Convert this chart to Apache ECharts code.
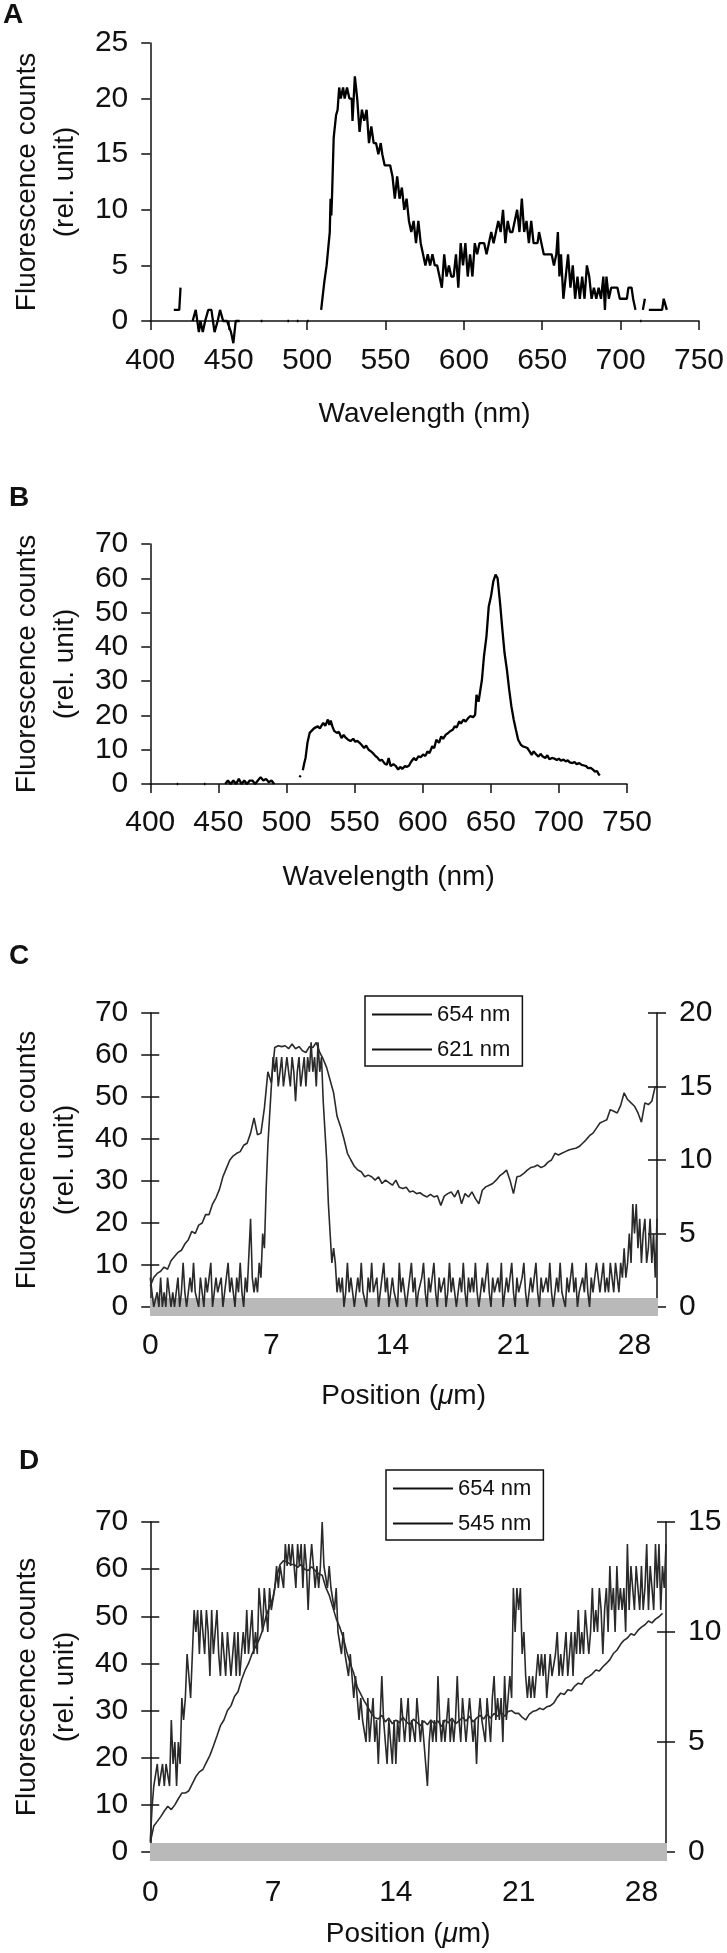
<!DOCTYPE html>
<html>
<head>
<meta charset="utf-8">
<title>Fluorescence spectra and position profiles</title>
<script src="https://cdn.jsdelivr.net/npm/echarts@6/dist/echarts.min.js"></script>
<style>
  html, body { margin: 0; padding: 0; background: #fff; }
  #main { width: 727px; height: 1953px; }
</style>
</head>
<body>
<div id="main"></div>
<script>
// ---- panel A: spectrum (null = gap in the trace)
var wlA = [
  415, 418.5, 419.3, 422, 427, 429, 431, 432, 433.5, 435,
  437, 439, 441, 443, 444.5, 446.5, 449, 451.5, 453, 454.5,
  457, 460, 470.5, 471.5, 475, 487.5, 488.5, 490, 493.5, 494.5,
  497, 500, 501, 505, 509, 510, 511, 512.5, 513.5, 514.5,
  515, 515.5, 516, 517, 518.5, 519.5, 520.5, 521.5, 523, 524,
  525.5, 527, 528.5, 529, 530.5, 532, 533.5, 535, 536.5, 538,
  539.5, 541, 542.5, 544, 545.5, 547, 548, 549.5, 553, 554.5,
  556, 557.5, 559, 560.5, 562, 563.5, 565, 566.5, 568, 569.5,
  571, 572.5, 574, 575.5, 577, 578.5, 580, 581.5, 583, 584.5,
  586, 587.5, 589, 590.5, 592, 593.5, 595, 596.5, 598, 599.5,
  601, 602.5, 604, 605.5, 607, 608.5, 610, 613, 614.5, 616,
  617.5, 619, 620.5, 622, 623.5, 625, 626.5, 628, 629.5, 631,
  632.5, 634, 635.5, 637, 638.5, 640, 641.5, 643, 644.5, 647,
  648, 649.5, 651, 656, 657.5, 659, 660, 661, 662, 663.5,
  665, 666.5, 668, 669.5, 671, 672.5, 674, 675.5, 677, 678.5,
  680, 681.5, 683, 684.5, 686, 687.5, 689, 690, 691, 692.5,
  694, 698, 699.5, 704, 705, 707, 708, 709.5, 711, 712.5,
  713.3, 713.8, 714.2, 715.5, 716.5, 718, 726.5, 727.5, 729.5
];
var cntA = [
  1, 1, 3, null, 0, 1, -1, 0, -1, 0,
  1, 1, -1, 0, 1, 0, 0, -1, -2, 0,
  0, null, 0, 0, null, 0, 0, null, 0, 0,
  null, 0, 0, null, 1, 1, 3.5, 5, 6.5, 8,
  11, 9.5, 11.5, 16.5, 18.5, 19, 21, 20, 21, 20,
  21, 20, 20, 18, 22, 20, 17, 19, 18, 19,
  16, 17.5, 16, 16, 15, 16, 15, 14, 14, 13,
  11, 13, 11, 12, 10, 11, 9, 8, 9, 7,
  9, 7, 6, 5, 6, 5, 6, 5, 5, 4,
  3, 6, 4, 5, 4, 4, 6, 3, 7, 5,
  7, 4, 6, 4, 7, 6, 7, 7, 6, 7,
  8, 7, 8, 9, 8, 10, 7, 9, 8, 8,
  9, 10, 8, 11, 8, 9, 7, 9, 7, 7,
  8, 7, 6, 6, 5, 6, 8, 4, 6, 2,
  4, 6, 3, 5, 2, 4, 2, 4, 2, 5,
  4, 2, 3, 2, 3, 2, 4, 1, 4, 2,
  3, 3, 2, 2, 3, 3, 2, 1, null, 0,
  0, null, 1, 2, null, 1, 1, 2, 1
];

// ---- panel B: spectrum
var wlB = [
  419.5, 420.5, 422, 439.5, 440.5, 442, 455, 457, 459, 461,
  463, 465, 467, 469, 471, 473, 475, 477, 479, 481,
  483, 485, 487, 489, 491, 493, 509.5, 510.5, 511.2, 512,
  513, 514, 515.4, 517, 520.4, 523, 524.5, 527, 528.5, 530.4,
  531.5, 532.5, 533.7, 535, 537, 538.5, 540.4, 542, 543.5, 545,
  547, 549, 550.5, 552, 553.7, 555.5, 557, 558.5, 560.3, 562,
  563.5, 565, 567, 568.5, 570, 572, 573.7, 575, 576.5, 578.5,
  580.3, 582, 583.5, 585, 587, 588.5, 590, 591.5, 593.6, 595,
  597, 598.5, 600.3, 602, 603.5, 605, 607, 608.5, 610, 612,
  613.6, 615, 617, 618.5, 620.2, 622, 623.5, 625, 626.9, 628,
  630, 631.5, 633.5, 635, 637, 638.5, 639.5, 641, 643.5, 645,
  646.8, 648.5, 650.2, 651.8, 653.5, 655, 656.8, 658.5, 660.1, 661.8,
  663.5, 665.1, 666.8, 668.4, 670.1, 672, 673.5, 675, 676.8, 678.5,
  680, 681.5, 683.4, 685, 686.5, 688, 690, 691.5, 693, 695,
  696.7, 698.5, 700, 701.5, 703.4, 705, 706.5, 708, 710, 711.5,
  713, 715, 716.7, 718.5, 720, 721.5, 723.4, 725, 726.5, 728,
  729, 730
];
var cntB = [
  0, 0, null, 0, 0, null, 0, 1, 0, 1,
  0, 1.5, 0, 1, 0, 1, 1, 0, 1, 2,
  1, 1.5, 0.5, 1, 0, null, 2, 2.5, null, 4,
  6, 7.6, 12, 14.9, 16.3, 16.8, 16.2, 17.8, 17, 18.8,
  17.2, 18.5, 16.8, 15.5, 14.9, 15.2, 13.4, 14.3, 13.5, 13,
  12.5, 13.2, 12.3, 12.6, 12, 11.2, 10.5, 11.2, 10, 9.5,
  9, 8.3, 7.6, 6.8, 7.1, 6, 5.6, 7.6, 5.2, 5.8,
  5.2, 4.2, 5, 4.4, 5.2, 5, 5.4, 6.5, 7.6, 6.9,
  8.1, 7.8, 8.6, 8.2, 9.5, 9, 11, 10.5, 12.9, 12,
  13.9, 13.2, 14.4, 14.8, 15.4, 15.8, 16.8, 16.5, 18.3, 17.6,
  18.8, 18.2, 19.3, 19.8, 19.5, 20.2, 26, 24, 30.4, 37.3,
  43, 51.8, 54.8, 59, 61.1, 60, 52.8, 45, 38.2, 33.4,
  27.5, 22.7, 18.8, 15.9, 12.9, 11.5, 11, 10.8, 10.5, 9.5,
  8.5, 9.5, 8.6, 8, 8.8, 8.1, 7.6, 8.4, 7.2, 7.6,
  7.4, 7, 7.4, 6.8, 7.1, 6.6, 6.9, 6.3, 6.1, 6.4,
  5.8, 6.1, 5.6, 5.4, 5.2, 4.6, 4.7, 4.2, 3.6, 3.8,
  3, 2.5
];

// ---- panels C and D: profiles sampled from 0 um
// 654 nm traces every 0.2 um, the noisier ones every 0.1 um
var c654 = [
  5, 7, 8, 8.5, 9.5, 9, 11, 12, 13, 13.5,
  15, 16, 18, 17.5, 19.5, 20, 22, 22, 24.5, 26,
  28, 31, 33, 35, 36, 36.6, 37, 38.5, 39, 41.4,
  45, 41, 41.4, 47.4, 56, 53.4, 61.8, 62.2, 62, 62.2,
  61.5, 62.6, 61.5, 62, 61, 60.6, 62, 61.8, 63, 60.6,
  59, 57, 54, 51, 45.4, 43, 40, 36.6, 35, 33.5,
  32.6, 32.2, 31, 31.4, 31, 30.2, 31, 29.4, 30.2, 29.6,
  29, 30.2, 28.5, 28.2, 28.5, 27.4, 27.6, 27, 27.2, 26.6,
  26.2, 26.8, 26.2, 26.5, 24.2, 26.4, 27, 27.4, 26.2, 27.8,
  24.6, 27, 26.2, 27.4, 25.8, 24.6, 27.8, 28.6, 29, 29.4,
  30.2, 31.2, 31.8, 32.6, 30.2, 27, 31, 31.2, 31.8, 32.6,
  33.2, 33.4, 33.8, 33.2, 33.6, 34.5, 35, 36.6, 36.2, 36.6,
  37, 37.4, 37.6, 37.8, 38.2, 39, 39.8, 40.8, 41.4, 42.6,
  43.8, 44.2, 44.6, 47, 46.6, 46.2, 48, 51, 49.4, 48.6,
  47.8, 46.2, 44, 48.6, 48.2, 49, 52.6
];
var c621 = [
  2, 1, 0, 0, 1, 0, 2, 0, 1, 0,
  2, 1, 0, 1, 0, 1, 2, 0, 1, 3,
  1, 0, 1, 2, 1, 3, 1, 1, 0, 2,
  1, 0, 2, 1, 1, 3, 0, 1, 2, 1,
  1, 2, 0, 1, 1, 3, 1, 2, 1, 0,
  2, 1, 3, 1, 0, 2, 1, 1, 6, 2,
  1, 2, 1, 3, 2, 5, 4, 8, 11, 13,
  15, 17, 16, 17, 15, 16, 17, 15, 16, 17,
  16, 15, 17, 16, 14, 16, 17, 15, 16, 17,
  15, 17, 16, 18, 16, 17, 15, 18, 16, 17,
  14, 12, 10, 7, 5, 3, 4, 3, 1, 2,
  1, 2, 0, 1, 3, 1, 2, 1, 0, 1,
  2, 1, 3, 1, 1, 0, 2, 1, 3, 1,
  1, 2, 0, 1, 1, 3, 1, 2, 0, 1,
  2, 1, 1, 0, 3, 1, 2, 1, 0, 1,
  1, 3, 1, 2, 0, 1, 1, 2, 3, 1,
  0, 2, 1, 1, 3, 1, 0, 2, 1, 1,
  2, 0, 1, 3, 1, 2, 1, 0, 1, 2,
  1, 3, 1, 0, 2, 1, 2, 1, 3, 1,
  0, 1, 2, 1, 1, 3, 1, 0, 2, 1,
  1, 2, 1, 3, 0, 1, 2, 1, 1, 3,
  1, 0, 2, 1, 1, 2, 3, 1, 0, 1,
  2, 1, 1, 3, 1, 0, 2, 1, 1, 2,
  1, 3, 1, 0, 1, 2, 1, 3, 1, 1,
  0, 2, 1, 1, 3, 1, 2, 0, 1, 1,
  2, 1, 3, 1, 0, 2, 1, 1, 3, 2,
  1, 2, 3, 1, 2, 1, 3, 2, 1, 3,
  2, 1, 3, 2, 4, 2, 3, 5, 3, 7,
  5, 7, 4, 6, 3, 5, 6, 3, 4, 6,
  3, 5, 2, 6
];
var d654 = [
  2, 5.5, 6.5, 7.5, 8.7, 9.7, 9, 10, 11.3, 12.5,
  12.5, 13, 14.5, 16, 17, 17.5, 19, 20.5, 22.5, 24.6,
  26.8, 28, 30, 31, 33, 34, 36.5, 38.5, 40, 42,
  43.5, 45, 47, 50, 52, 54, 58.3, 61, 61.8, 61.5,
  61, 61, 60.4, 61, 60, 59.7, 60.5, 59.7, 59, 58.7,
  56.2, 54.5, 52, 49.5, 47.7, 45.5, 42.5, 40, 37.9, 35,
  33.5, 32, 30.8, 29.4, 28.5, 28.2, 29, 27.6, 28.4, 27.2,
  28, 27.4, 28.6, 27.6, 27, 28.2, 27.5, 26.8, 27.8, 27,
  28, 27.2, 27.8, 26.6, 28, 27.4, 28.4, 27.2, 27.8, 28.6,
  27.8, 28.8, 27.6, 28.4, 29, 28.2, 29.2, 28.4, 29.4, 28.8,
  29.6, 28.8, 29.8, 30, 29.4, 29.4, 28.6, 28, 29.2, 29.8,
  30, 30.5, 30.2, 30.8, 31, 31.6, 32.8, 33.7, 33.4, 34.4,
  34.2, 35.2, 35.8, 35.6, 36.8, 37.2, 37.8, 38.6, 38.4, 39.3,
  40, 40.8, 42.1, 42.8, 44, 44.9, 45.4, 46.3, 46, 47,
  47.7, 48.2, 49, 48.6, 49.4, 49.9, 50.6
];
var d545 = [
  0.5, 2, 3, 3, 4, 3, 3, 4, 3, 4,
  4, 3, 6, 4, 5, 3, 5, 4, 7, 6,
  7, 9, 8, 7, 9, 11, 10, 11, 9, 11,
  11, 9, 11, 10, 8, 11, 9, 10, 11, 9,
  8, 10, 9, 8, 10, 9, 8, 9, 10, 8,
  10, 8, 9, 10, 9, 11, 9, 10, 11, 9,
  10, 9, 12, 11, 10, 12, 11, 10, 12, 11,
  11, 12, 13, 12, 13, 13, 12, 14, 13, 14,
  13, 14, 13, 12, 14, 13, 14, 12, 14, 13,
  11, 13, 14, 13, 12, 13, 12, 13, 15, 13,
  13, 12, 13, 12, 12, 11, 12, 10, 10, 9,
  10, 9, 9, 8, 9, 8, 7, 8, 7, 6,
  7, 6, 6, 5, 7, 5, 6, 7, 5, 6,
  4, 6, 8, 6, 5, 4, 6, 5, 4, 6,
  4, 6, 5, 7, 6, 5, 6, 7, 5, 6,
  6, 5, 7, 6, 5, 6, 5, 4, 3, 5,
  6, 5, 6, 5, 8, 6, 5, 6, 5, 6,
  7, 5, 6, 5, 6, 8, 6, 5, 7, 6,
  5, 6, 7, 6, 5, 6, 4, 6, 7, 6,
  6, 5, 7, 6, 5, 7, 8, 6, 7, 6,
  7, 5, 8, 6, 7, 8, 7, 12, 10, 12,
  11, 12, 9, 10, 8, 7, 8, 7, 8, 7,
  7, 9, 8, 9, 8, 9, 7, 8, 9, 8,
  8, 9, 10, 8, 9, 8, 9, 10, 8, 9,
  10, 8, 10, 9, 11, 9, 10, 9, 11, 10,
  9, 10, 12, 10, 11, 10, 12, 11, 9, 11,
  12, 10, 13, 11, 12, 10, 13, 11, 12, 11,
  12, 10, 14, 11, 13, 12, 11, 13, 12, 11,
  13, 11, 12, 14, 11, 13, 12, 11, 14, 12,
  14, 11, 13, 12, 14
];

var FONT = '"Liberation Sans", Arial, Helvetica, sans-serif';
var INK = '#111';
var TRACE = '#2a2a2a';

function zip(xs, ys) {
    return xs.map(function (x, i) { return [x, ys[i]]; });
}
function profile(vals, step) {
    return vals.map(function (v, i) { return [+(i * step).toFixed(2), v]; });
}

var yName = 'Fluorescence counts\n(rel. unit)';
var nameStyle = { fontSize: 28, color: INK, fontFamily: FONT, lineHeight: 38 };
var tickFont = { fontSize: 30, color: INK, fontFamily: FONT };
var posName = 'Position ({i|\u03bc}m)';
var posNameStyle = {
    fontSize: 28, color: INK, fontFamily: FONT,
    rich: { i: { fontSize: 28, color: INK, fontFamily: FONT, fontStyle: 'italic' } }
};

// axis with line, outside ticks and labels
function mainAxis(o) {
    return Object.assign({
        type: 'value',
        splitLine: { show: false },
        axisLine: { show: true, onZero: false, lineStyle: { color: INK, width: 1.5 } },
        axisTick: { show: true, length: 9, lineStyle: { color: INK, width: 1.5 } },
        axisLabel: Object.assign({ margin: 22 }, tickFont)
    }, o);
}
// extra axis drawing only ticks (ticks on both sides of an axis / the hatched band)
function tickAxis(o, color, width) {
    return Object.assign({
        type: 'value',
        splitLine: { show: false },
        axisLine: { show: false, onZero: false },
        axisLabel: { show: false },
        axisTick: { show: true, inside: true, length: 9, lineStyle: { color: color || INK, width: width || 1.5 } }
    }, o);
}

var xMaxC = 29.3, xMaxD = 29.4;
var bandColor = '#b9b9b9';
var bandStep = 0.05;

var option = {
    animation: false,
    backgroundColor: '#fff',
    grid: [
        { left: 130, top: 43, width: 572, height: 278 },
        { left: 137, top: 544, width: 490, height: 240 },
        { left: 138, top: 1013, width: 519, height: 294 },
        { left: 141, top: 1522, width: 525, height: 330 }
    ],
    xAxis: [
        mainAxis({ gridIndex: 0, position: 'bottom', min: 400, max: 750, interval: 50,
            axisLabel: Object.assign({ margin: 25 }, tickFont),
            name: 'Wavelength (nm)', nameLocation: 'middle', nameGap: 74, nameTextStyle: nameStyle }),
        mainAxis({ gridIndex: 1, position: 'bottom', min: 400, max: 750, interval: 50,
            axisLabel: Object.assign({ margin: 24 }, tickFont),
            name: 'Wavelength (nm)', nameLocation: 'middle', nameGap: 74, nameTextStyle: nameStyle }),
        // C
        mainAxis({ gridIndex: 2, position: 'bottom', min: 0, max: xMaxC, interval: 7,
            axisLine: { show: true, onZero: false, lineStyle: { color: '#8a8a8a', width: 1 } },
            axisTick: { show: false },
            axisLabel: Object.assign({ margin: 24, showMaxLabel: false }, tickFont),
            name: posName, nameLocation: 'middle', nameGap: 75, nameTextStyle: posNameStyle }),
        tickAxis({ gridIndex: 2, position: 'bottom', min: 0, max: xMaxC, interval: bandStep }, bandColor, 1),
        tickAxis({ gridIndex: 2, position: 'bottom', min: 0, max: xMaxC, interval: bandStep,
            axisTick: { show: true, inside: false, length: 9, lineStyle: { color: bandColor, width: 1 } } }),
        // D
        mainAxis({ gridIndex: 3, position: 'bottom', min: 0, max: xMaxD, interval: 7,
            axisLine: { show: true, onZero: false, lineStyle: { color: '#8a8a8a', width: 1 } },
            axisTick: { show: false },
            axisLabel: Object.assign({ margin: 26, showMaxLabel: false }, tickFont),
            name: posName, nameLocation: 'middle', nameGap: 68, nameTextStyle: posNameStyle }),
        tickAxis({ gridIndex: 3, position: 'bottom', min: 0, max: xMaxD, interval: bandStep }, bandColor, 1),
        tickAxis({ gridIndex: 3, position: 'bottom', min: 0, max: xMaxD, interval: bandStep,
            axisTick: { show: true, inside: false, length: 9, lineStyle: { color: bandColor, width: 1 } } })
    ],
    yAxis: [
        mainAxis({ gridIndex: 0, position: 'left', min: 0, max: 25, interval: 5,
            name: yName, nameLocation: 'middle', nameRotate: 90, nameGap: 60, nameTextStyle: nameStyle }),
        mainAxis({ gridIndex: 1, position: 'left', min: 0, max: 70, interval: 10,
            name: yName, nameLocation: 'middle', nameRotate: 90, nameGap: 58, nameTextStyle: nameStyle }),
        // C left + inside ticks, right + inside ticks
        mainAxis({ gridIndex: 2, position: 'left', min: 0, max: 70, interval: 10,
            name: yName, nameLocation: 'middle', nameRotate: 90, nameGap: 60, nameTextStyle: nameStyle }),
        tickAxis({ gridIndex: 2, position: 'left', min: 0, max: 70, interval: 10 }),
        mainAxis({ gridIndex: 2, position: 'right', min: 0, max: 20, interval: 5 }),
        tickAxis({ gridIndex: 2, position: 'right', min: 0, max: 20, interval: 5 }),
        // D
        mainAxis({ gridIndex: 3, position: 'left', min: 0, max: 70, interval: 10,
            name: yName, nameLocation: 'middle', nameRotate: 90, nameGap: 60, nameTextStyle: nameStyle }),
        tickAxis({ gridIndex: 3, position: 'left', min: 0, max: 70, interval: 10 }),
        mainAxis({ gridIndex: 3, position: 'right', min: 0, max: 15, interval: 5 }),
        tickAxis({ gridIndex: 3, position: 'right', min: 0, max: 15, interval: 5 })
    ],
    legend: [
        { data: ['654 nm', '621 nm'], left: 365, top: 996, orient: 'vertical',
          padding: [6, 12, 4, 7], itemGap: 10, itemWidth: 60, itemHeight: 2, icon: 'rect',
          borderColor: INK, borderWidth: 1.5, borderRadius: 0, selectedMode: false,
          itemStyle: { color: INK, borderWidth: 0 },
          textStyle: { fontSize: 22, color: INK, fontFamily: FONT, lineHeight: 25 } },
        { data: ['654 nm', '545 nm'], left: 386, top: 1470, orient: 'vertical',
          padding: [6, 12, 4, 7], itemGap: 10, itemWidth: 60, itemHeight: 2, icon: 'rect',
          borderColor: INK, borderWidth: 1.5, borderRadius: 0, selectedMode: false,
          itemStyle: { color: INK, borderWidth: 0 },
          textStyle: { fontSize: 22, color: INK, fontFamily: FONT, lineHeight: 25 } }
    ],
    graphic: [
        { type: 'text', left: 3, top: 1, style: { text: 'A', font: 'bold 28px ' + FONT, fill: INK } },
        { type: 'text', left: 9, top: 484, style: { text: 'B', font: 'bold 28px ' + FONT, fill: INK } },
        { type: 'text', left: 9, top: 942, style: { text: 'C', font: 'bold 28px ' + FONT, fill: INK } },
        { type: 'text', left: 19, top: 1447, style: { text: 'D', font: 'bold 28px ' + FONT, fill: INK } }
    ],
    series: [
        { name: 'A', type: 'line', xAxisIndex: 0, yAxisIndex: 0, data: zip(wlA, cntA),
          showSymbol: false, symbol: 'none', clip: false, lineStyle: { color: '#000', width: 2.3 } },
        { name: 'B', type: 'line', xAxisIndex: 1, yAxisIndex: 1, data: zip(wlB, cntB),
          showSymbol: false, symbol: 'none', clip: false, lineStyle: { color: '#000', width: 2.3 } },
        { name: '654 nm', type: 'line', xAxisIndex: 2, yAxisIndex: 2, data: profile(c654, 0.2),
          showSymbol: false, symbol: 'none', lineStyle: { color: TRACE, width: 1.6 } },
        { name: '621 nm', type: 'line', xAxisIndex: 2, yAxisIndex: 4, data: profile(c621, 0.1),
          showSymbol: false, symbol: 'none', lineStyle: { color: TRACE, width: 1.6 } },
        { name: '654 nm', type: 'line', xAxisIndex: 5, yAxisIndex: 6, data: profile(d654, 0.2),
          showSymbol: false, symbol: 'none', lineStyle: { color: TRACE, width: 1.6 } },
        { name: '545 nm', type: 'line', xAxisIndex: 5, yAxisIndex: 8, data: profile(d545, 0.1),
          showSymbol: false, symbol: 'none', lineStyle: { color: TRACE, width: 1.6 } }
    ]
};

var chart = echarts.init(document.getElementById('main'), null, { renderer: 'canvas' });
chart.setOption(option);
</script>
</body>
</html>
